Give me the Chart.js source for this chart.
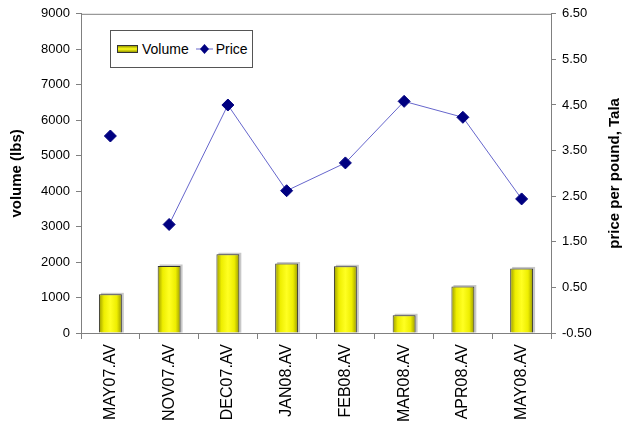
<!DOCTYPE html>
<html>
<head>
<meta charset="utf-8">
<script src="https://cdn.jsdelivr.net/npm/chart.js@4"></script>
<style>
    html, body { margin: 0; padding: 0; background: #fff; }
    #wrap { position: relative; width: 622px; height: 430px; }
    #legend {
        position: absolute; left: 110px; top: 30px; width: 141px; height: 36px;
        border: 1px solid #555; background: #fff; box-sizing: content-box;
        display: flex; align-items: center; padding-left: 0;
        font: 14px "Liberation Sans", Arial, sans-serif; color: #000;
    }
    #legend .swatch {
        display: inline-block; width: 19px; height: 6px; margin: 0 4px 0 6px;
        border: 1px solid #333;
        background: linear-gradient(to bottom, #9a9a00, #ffff1a 50%, #9a9a00);
    }
    #legend svg { margin: 0 3px 0 7px; }
</style>
</head>
<body>
<div id="wrap">
    <canvas id="chart" width="622" height="430"></canvas>
    <div id="legend">
        <span class="swatch"></span><span>Volume</span>
        <svg width="17" height="12"><line x1="0" y1="6" x2="17" y2="6" stroke="#6666cc" stroke-width="1"/><path d="M8.5 1 L13 6 L8.5 11 L4 6 Z" fill="#000080"/></svg><span>Price</span>
    </div>
</div>
<script>
    "use strict";

    // data
    const labels = ["MAY07.AV", "NOV07.AV", "DEC07.AV", "JAN08.AV",
                    "FEB08.AV", "MAR08.AV", "APR08.AV", "MAY08.AV"];
    const volume = [1090, 1890, 2220, 1960, 1880, 500, 1310, 1820];
    const price = [3.82, 1.88, 4.50, 2.62, 3.23, 4.58, 4.23, 2.44];
    const volumeTicks = [0, 1000, 2000, 3000, 4000, 5000, 6000, 7000, 8000, 9000];
    const priceTicks = [-0.5, 0.5, 1.5, 2.5, 3.5, 4.5, 5.5, 6.5];

    const FONT = "'Liberation Sans', Arial, sans-serif";
    const AXIS = "#808080";
    const BAR_PCT = 0.39;

    function barGradient(c) {
        const chart = c.chart;
        const area = chart.chartArea;
        if (!area || c.dataIndex == null) { return "#ffff00"; }
        const cx = chart.scales.x.getPixelForValue(c.dataIndex);
        const half = area.width / labels.length * BAR_PCT / 2;
        const g = chart.ctx.createLinearGradient(cx - half, 0, cx + half, 0);
        g.addColorStop(0, "#9a9a00");
        g.addColorStop(0.22, "#eeee00");
        g.addColorStop(0.5, "#ffff22");
        g.addColorStop(0.78, "#eeee00");
        g.addColorStop(1, "#9a9a00");
        return g;
    }

    // light drop shadow behind bars, top frame line, right axis title
    const extras = {
        id: "extras",
        beforeDatasetsDraw(chart) {
            const ctx = chart.ctx;
            const meta = chart.getDatasetMeta(0);
            ctx.save();
            ctx.fillStyle = "#c8c8c8";
            for (const el of meta.data) {
                ctx.fillRect(el.x - el.width / 2 + 2, el.y - 1.5, el.width, el.base - el.y + 1.5);
            }
            ctx.restore();
        },
        afterDraw(chart) {
            const ctx = chart.ctx;
            const a = chart.chartArea;
            ctx.save();
            ctx.strokeStyle = AXIS;
            ctx.lineWidth = 1;
            ctx.beginPath();
            ctx.moveTo(a.left, a.top + 0.5);
            ctx.lineTo(a.right, a.top + 0.5);
            ctx.stroke();
            ctx.translate(615, (a.top + a.bottom) / 2);
            ctx.rotate(-Math.PI / 2);
            ctx.fillStyle = "#000";
            ctx.font = "bold 15px " + FONT;
            ctx.textAlign = "center";
            ctx.textBaseline = "middle";
            ctx.fillText("price per pound, Tala", 0, 0);
            ctx.restore();
        },
    };

    const tickFont = { family: FONT, size: 13 };

    new Chart(document.getElementById("chart"), {
        data: {
            labels,
            datasets: [{
                type: "bar",
                label: "Volume",
                data: volume,
                yAxisID: "y",
                order: 1,
                backgroundColor: barGradient,
                borderColor: "#333",
                borderWidth: 1,
                categoryPercentage: 1,
                barPercentage: BAR_PCT,
            }, {
                type: "line",
                label: "Price",
                data: price,
                yAxisID: "y1",
                order: 0,
                borderColor: "#6666cc",
                borderWidth: 1,
                pointStyle: "rectRot",
                pointRadius: 6,
                pointBackgroundColor: "#000080",
                pointBorderColor: "#000080",
                tension: 0,
                // first point stands alone in the reference
                segment: { borderColor: s => s.p0DataIndex === 0 ? "rgba(0,0,0,0)" : undefined },
            }],
        },
        options: {
            responsive: false,
            animation: false,
            layout: { padding: { top: 13, left: 0, right: 0, bottom: 0 } },
            plugins: { legend: { display: false }, tooltip: { enabled: false } },
            scales: {
                x: {
                    offset: true,
                    grid: { offset: true, drawOnChartArea: false, color: AXIS, tickLength: 6 },
                    border: { color: AXIS },
                    ticks: { font: { family: FONT, size: 16 }, color: "#000",
                             minRotation: 90, maxRotation: 90, padding: 5 },
                    afterFit: s => { s.height = 97; },
                },
                y: {
                    position: "left",
                    min: 0, max: 9000,
                    afterBuildTicks: s => { s.ticks = volumeTicks.map(v => ({ value: v })); },
                    grid: { drawOnChartArea: false, color: AXIS, tickLength: 5 },
                    border: { color: AXIS },
                    ticks: { font: tickFont, color: "#000", padding: 6,
                             callback: v => String(v) },
                    title: { display: true, text: "volume (lbs)", color: "#000",
                             font: { family: FONT, size: 15, weight: "bold" },
                             padding: { top: 8, bottom: 0 } },
                    afterFit: s => { s.width = 81; },
                },
                y1: {
                    position: "right",
                    min: -0.5, max: 6.5,
                    afterBuildTicks: s => { s.ticks = priceTicks.map(v => ({ value: v })); },
                    grid: { drawOnChartArea: false, color: AXIS, tickLength: 5 },
                    border: { color: AXIS },
                    ticks: { font: tickFont, color: "#000", padding: 6,
                             callback: v => Number(v).toFixed(2) },
                    afterFit: s => { s.width = 71; },
                },
            },
        },
        plugins: [extras],
    });
</script>
</body>
</html>
